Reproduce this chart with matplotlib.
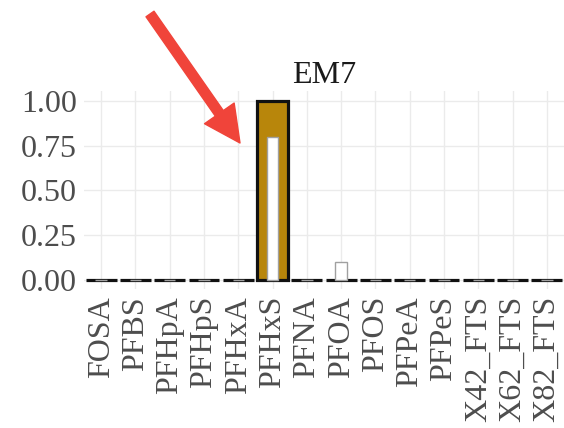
import numpy as np
import matplotlib
matplotlib.use("Agg")
import matplotlib.pyplot as plt

# compounds measured for sample EM7
compounds = ["FOSA", "PFBS", "PFHpA", "PFHpS", "PFHxA", "PFHxS", "PFNA",
             "PFOA", "PFOS", "PFPeA", "PFPeS", "X42_FTS", "X62_FTS", "X82_FTS"]
# outer (filled) bars and inner (white) bars
outer_vals = [0, 0, 0, 0, 0, 1.0, 0, 0, 0, 0, 0, 0, 0, 0]
inner_vals = [0, 0, 0, 0, 0, 0.8, 0, 0.1, 0, 0, 0, 0, 0, 0]
yticks = [0.00, 0.25, 0.50, 0.75, 1.00]

plt.rcParams["font.family"] = ["Liberation Serif", "DejaVu Serif"]

fig = plt.figure(figsize=(5.64, 4.28), dpi=100)
ax = fig.add_axes([84 / 564, 139 / 428, 480 / 564, 198 / 428])

x = np.arange(len(compounds))
ax.bar(x, outer_vals, width=0.9, color="#b8860b", edgecolor="#111111",
       linewidth=2.3, zorder=2)
ax.bar(x, inner_vals, width=0.33, color="white", edgecolor="#a0a0a0",
       linewidth=1.0, zorder=3)

ax.set_xlim(-0.5, len(compounds) - 0.5)
ax.set_ylim(-0.05, 1.055)
ax.set_xticks(x)
ax.set_xticklabels(compounds, rotation=90)
ax.set_yticks(yticks)
ax.set_yticklabels([f"{v:.2f}" for v in yticks])
ax.tick_params(length=0, labelsize=23, colors="#4d4d4d", pad=5)
ax.grid(True, color="#ebebeb", linewidth=1.0, zorder=0)
ax.set_axisbelow(True)
for s in ax.spines.values():
    s.set_visible(False)

ax.set_title("EM7", fontsize=23, color="#1a1a1a", pad=6)

# red pointer arrow
ax.annotate("", xy=(240, 428 - 143), xycoords="figure pixels",
            xytext=(150, 428 - 14), textcoords="figure pixels",
            arrowprops=dict(arrowstyle="simple,head_length=1.3,head_width=1.3,tail_width=0.35",
                            color="#f0443a", mutation_scale=20, shrinkA=0, shrinkB=0),
            annotation_clip=False)

fig.savefig("out.png", dpi=100, facecolor="white")
